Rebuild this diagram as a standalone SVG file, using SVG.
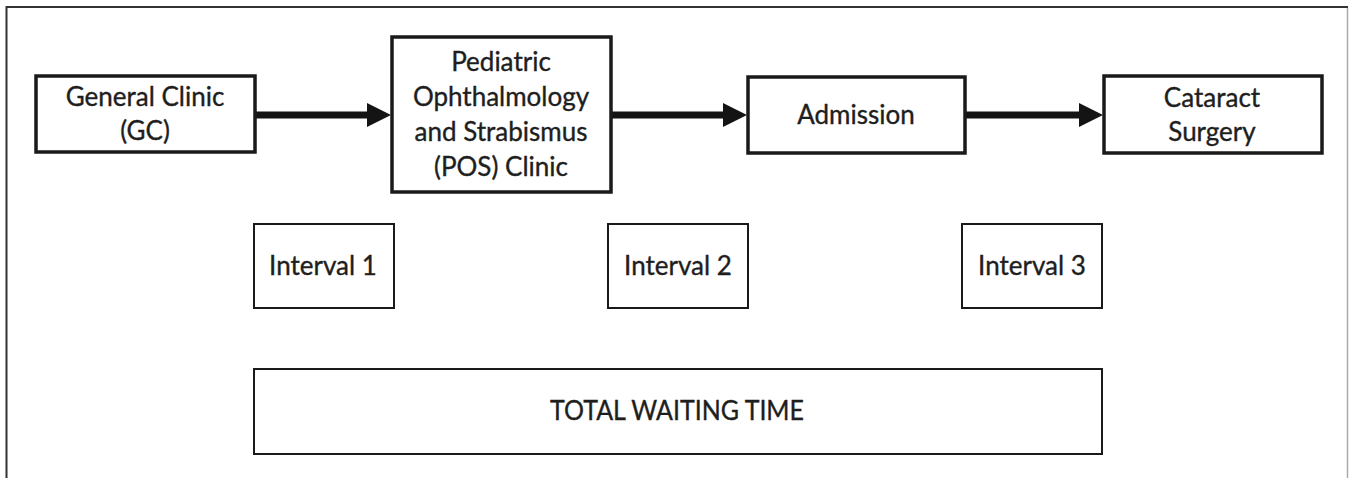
<svg xmlns="http://www.w3.org/2000/svg" width="1349" height="478" viewBox="0 0 1349 478">
<style>
.bx{fill:#fff;stroke:#1a1a1a;stroke-width:3.5}
.ib{fill:#fff;stroke:#1a1a1a;stroke-width:2}
.t{font-family:Lato,"Liberation Sans",sans-serif;font-size:26px;fill:#1e1e1e;stroke:#1e1e1e;stroke-width:0.35;text-anchor:middle}
.ln{stroke:#141414;stroke-width:7;fill:none}
.hd{fill:#141414}
</style>
<rect x="0" y="0" width="1349" height="478" fill="#fff"/>
<g id="frame">
<line x1="6.5" y1="7" x2="1348" y2="7" stroke="#333" stroke-width="2"/>
<line x1="6.5" y1="6" x2="6.5" y2="478" stroke="#333" stroke-width="2"/>
<line x1="1347.5" y1="8" x2="1347.5" y2="478" stroke="#aaa" stroke-width="1.5"/>
</g>
<g id="connectors">
<line class="ln" x1="255" y1="115" x2="370" y2="115"/>
<polygon class="hd" points="367,103 391,115 367,127"/>
<line class="ln" x1="611" y1="115" x2="726" y2="115"/>
<polygon class="hd" points="723,103 747,115 723,127"/>
<line class="ln" x1="965" y1="115" x2="1082" y2="115"/>
<polygon class="hd" points="1079,103 1103,115 1079,127"/>
</g>
<g id="gc">
<rect class="bx" x="36" y="76" width="219" height="76"/>
<text class="t" x="145" y="106">General Clinic</text>
<text class="t" x="145" y="140">(GC)</text>
</g>
<g id="pos">
<rect class="bx" x="392" y="37" width="219" height="155"/>
<text class="t" x="501" y="71">Pediatric</text>
<text class="t" x="501" y="106">Ophthalmology</text>
<text class="t" x="501" y="141">and Strabismus</text>
<text class="t" x="501" y="176">(POS) Clinic</text>
</g>
<g id="admission">
<rect class="bx" x="748" y="77" width="217" height="76"/>
<text class="t" x="856" y="124">Admission</text>
</g>
<g id="cataract">
<rect class="bx" x="1104" y="76" width="218" height="77"/>
<text class="t" x="1212" y="107">Cataract</text>
<text class="t" x="1212" y="141">Surgery</text>
</g>
<g id="interval1">
<rect class="ib" x="254" y="224" width="140" height="84"/>
<text class="t" x="323" y="275">Interval 1</text>
</g>
<g id="interval2">
<rect class="ib" x="608" y="224" width="140" height="84"/>
<text class="t" x="678" y="275">Interval 2</text>
</g>
<g id="interval3">
<rect class="ib" x="962" y="224" width="140" height="84"/>
<text class="t" x="1032" y="275">Interval 3</text>
</g>
<g id="total">
<rect class="ib" x="254" y="369" width="848" height="85"/>
<text class="t" x="677" y="420" textLength="254" lengthAdjust="spacingAndGlyphs">TOTAL WAITING TIME</text>
</g>
</svg>
